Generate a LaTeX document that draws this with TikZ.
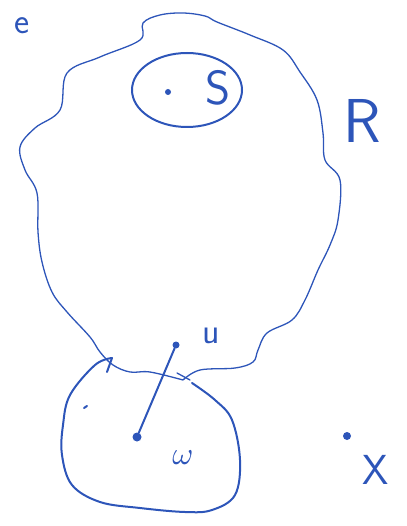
\documentclass[tikz,border=0pt]{standalone}
\usepackage{tikz}
\usetikzlibrary{positioning}

\definecolor{penblue}{RGB}{45,85,185}

\begin{document}
\begin{tikzpicture}[x=1pt, y=-1pt,
    pen/.style={draw=penblue, line width=2pt, line cap=round, line join=round},
    thinpen/.style={draw=penblue, line width=1.3pt, line cap=round, line join=round},
    dot/.style={circle, fill=penblue, inner sep=0pt, minimum size=#1},
    lbl/.style={text=penblue, inner sep=0pt}]
  \useasboundingbox (0,0) rectangle (406,526);

  % Region R (wavy boundary)
  \draw[thinpen] plot[smooth, tension=0.6] coordinates {
    (183,380) (150,372) (130,372) (113,365) (100,352) (90,337) (67,312)
    (52,292) (42,262) (38,232) (37,193) (25,170) (20,147) (35,128)
    (60,110) (67,73) (100,57) (140,40) (143,23) (160,15) (183,13)
    (205,16) (217,22) (250,35) (283,50) (300,72) (317,100) (323,133)
    (325,160) (340,180) (338,220) (330,245) (318,270) (305,300)
    (292,320) (267,333) (258,350) (253,362) (235,368) (200,370) (183,380)};

  % Region S inside R
  \draw[pen] (187,90) ellipse [x radius=55, y radius=37];

  % Region W below R
  \draw[pen] plot[smooth, tension=0.6] coordinates {
    (112,358) (95,365) (70,395) (63,425) (62,455) (72,485) (100,502)
    (140,508) (185,512) (212,510) (235,495) (240,460) (232,420)
    (215,400) (192,383)};
  \draw[pen] (107,372) -- (112,358);
  \draw[thinpen] (177,373) -- (190,380);
  \draw[pen] (84,408) -- (87,406);

  % Points
  \node[dot=6pt] (s) at (168,92) {};
  \node[dot=7pt] (u) at (176,345) {};
  \node[dot=9pt] (w) at (137,437) {};
  \node[dot=8pt] (x) at (347,436) {};

  \draw[pen] (w) -- (u);

  % Labels
  \node[lbl, font=\sffamily\fontsize{48}{50}\selectfont] (slbl) at (218,88) {S};
  \node[lbl, font=\sffamily\fontsize{62}{64}\selectfont] (rlbl) at (362,121) {R};
  \node[lbl, font=\sffamily\fontsize{36}{40}\selectfont] (ulbl) at (211,336) {u};
  \node[lbl] (wlbl) at (183,458) {\scalebox{3.2}{$\omega$}};
  \node[lbl, font=\sffamily\fontsize{42}{44}\selectfont] (xlbl) at (376,470) {X};
  \node[lbl, font=\sffamily\fontsize{36}{38}\selectfont] (elbl) at (22,26) {e};
\end{tikzpicture}
\end{document}
